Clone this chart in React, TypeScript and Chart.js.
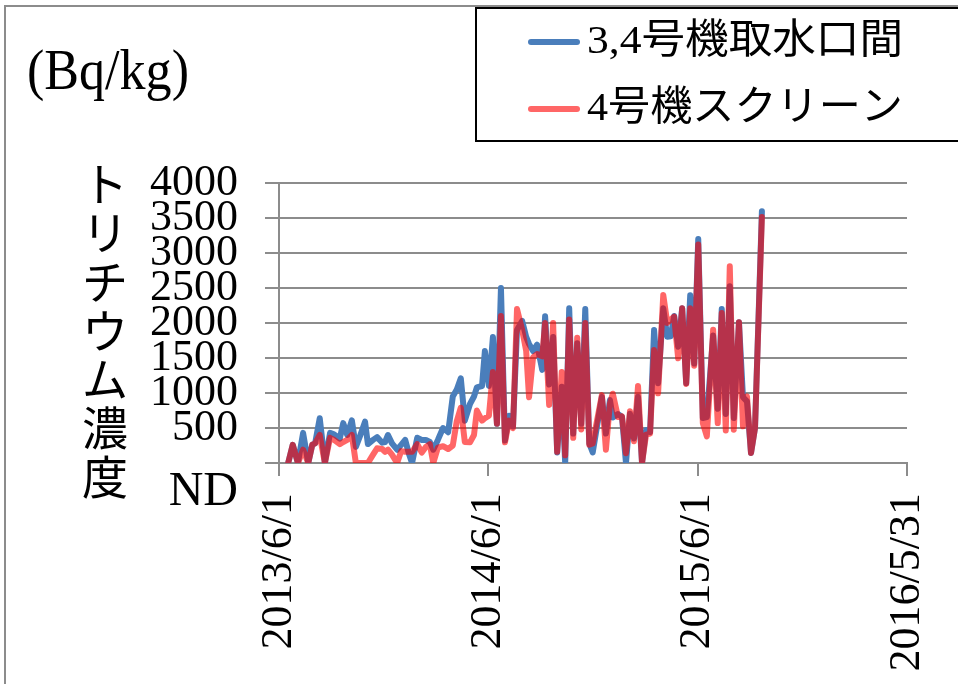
import { useEffect, useRef } from "react";
import { Chart, registerables } from "chart.js";
Chart.register(...registerables);

// Days since 2013/6/1
const days = [16,24,33,42,51,58,63,71,80,89,96,106,112,119,127,134,141,150,155,164,171,180,185,190,197,206,213,220,227,232,241,249,256,263,269,277,286,295,303,310,317,324,333,340,345,354,359,366,373,380,387,394,401,408,415,424,431,436,443,450,459,464,471,478,485,493,499,506,513,520,527,534,541,547,563,570,577,582,591,598,605,612,619,626,633,640,647,654,661,670,677,683,689,696,703,710,717,724,731,739,746,757,765,772,779,786,793,802,809,816,823,830,842];

const intakeValues = [0,260,0,430,0,260,280,640,0,430,410,350,570,400,610,230,380,590,270,330,370,290,300,400,280,190,260,330,120,0,360,330,330,300,190,330,500,440,950,1050,1210,605,843,950,1080,1100,1600,1100,1800,560,2500,320,676,524,1900,2030,1800,1700,1600,1690,1330,2095,1120,1800,150,1090,0,2210,420,1710,560,2200,280,150,945,420,900,650,700,660,0,705,350,945,0,470,440,1900,1140,2210,1805,1810,2100,1660,2210,1140,2395,1420,3200,643,655,1820,775,2200,700,2524,643,2012,940,880,143,500,3595];

const screenValues = [0,260,0,190,0,260,280,400,0,360,330,270,300,330,400,0,0,0,0,120,210,200,160,190,120,0,170,160,160,160,270,150,230,270,0,220,240,200,250,600,790,300,295,400,750,605,640,676,1300,560,2100,295,605,500,2200,1900,1600,940,1510,1557,1524,2000,830,2000,160,1300,110,2050,360,1790,480,2000,262,280,970,190,850,990,657,667,140,740,310,1100,0,405,420,1615,995,2400,2000,2050,2090,1495,2210,1130,2210,1390,3120,571,380,1905,570,2142,465,2810,476,2012,524,952,143,500,3515];

const seriesNames = ["3,4号機取水口間", "4号機スクリーン"];
const yTickValues = [0, 500, 1000, 1500, 2000, 2500, 3000, 3500, 4000];
const xTickDays = [0, 365, 730, 1095];
const xTickLabels = ["2013/6/1", "2014/6/1", "2015/6/1", "2016/5/31"];
const unitLabel = "(Bq/kg)";
const yTitle = "トリチウム濃度";
const ndLabel = "ND";

const SERIF = "'Liberation Serif', 'Noto Sans CJK JP', serif";
const CJK = "'Noto Sans CJK JP', sans-serif";
const BLUE = "#4A7EBB";
const RED = "rgba(255,0,0,0.6)";
const GRID = "#8c8c8c";

function drawFitted(ctx: CanvasRenderingContext2D, text: string, x: number, y: number, width: number, font: string, baseline: CanvasTextBaseline) {
  ctx.save();
  ctx.font = font;
  ctx.textAlign = "left";
  ctx.textBaseline = baseline;
  const w = ctx.measureText(text).width;
  ctx.translate(x, y);
  ctx.scale(width / w, 1);
  ctx.fillStyle = "#000";
  ctx.fillText(text, 0, 0);
  ctx.restore();
}

const decorPlugin = {
  id: "decor",
  beforeDraw(chart: any) {
    const ctx = chart.ctx as CanvasRenderingContext2D;
    ctx.save();
    ctx.fillStyle = "#fff";
    ctx.fillRect(0, 0, chart.width, chart.height);
    ctx.restore();
  },
  afterDraw(chart: any) {
    const ctx = chart.ctx as CanvasRenderingContext2D;
    const ys = chart.scales.y;
    ctx.save();
    ctx.strokeStyle = GRID;
    ctx.lineWidth = 2;
    ctx.strokeRect(5, 6, chart.width + 20, chart.height + 20);
    drawFitted(ctx, unitLabel, 27, 89, 162, "56px " + SERIF, "alphabetic");
    ctx.font = "46px " + CJK;
    ctx.fillStyle = "#000";
    ctx.textAlign = "center";
    ctx.textBaseline = "middle";
    Array.from(yTitle).forEach((c, i) => ctx.fillText(c, 105, 184 + i * 48.7));
    ctx.font = "48px " + SERIF;
    ctx.textAlign = "right";
    ctx.textBaseline = "alphabetic";
    ctx.fillText(ndLabel, ys.right - 41, ys.getPixelForValue(0) + 42);
    ctx.strokeStyle = "#000";
    ctx.lineWidth = 2;
    ctx.strokeRect(476, 8, 520, 133);
    const rows = [
      { y: 42, color: BLUE, text: seriesNames[0] },
      { y: 109, color: RED, text: seriesNames[1] },
    ];
    rows.forEach((r) => {
      ctx.strokeStyle = r.color;
      ctx.lineWidth = 6;
      ctx.lineCap = "round";
      ctx.beginPath();
      ctx.moveTo(531, r.y);
      ctx.lineTo(577, r.y);
      ctx.stroke();
      drawFitted(ctx, r.text, 587, r.y, 316, "41px " + SERIF, "middle");
    });
    ctx.restore();
  },
};

export default function App() {
  const ref = useRef<HTMLCanvasElement>(null);
  useEffect(() => {
    if (!ref.current) return;
    const chart = new Chart(ref.current, {
      type: "line",
      data: {
        datasets: [
          {
            label: seriesNames[0],
            data: days.map((d, i) => ({ x: d, y: intakeValues[i] })),
            borderColor: BLUE,
            borderWidth: 6,
            pointRadius: 0,
            tension: 0,
            borderJoinStyle: "round",
            borderCapStyle: "round",
            order: 2,
          },
          {
            label: seriesNames[1],
            data: days.map((d, i) => ({ x: d, y: screenValues[i] })),
            borderColor: RED,
            borderWidth: 6,
            pointRadius: 0,
            tension: 0,
            borderJoinStyle: "round",
            borderCapStyle: "round",
            order: 1,
          },
        ],
      },
      options: {
        responsive: false,
        animation: false,
        events: [],
        layout: { padding: { top: 183, right: 51, left: 0, bottom: 0 } },
        plugins: { legend: { display: false }, tooltip: { enabled: false }, title: { display: false } },
        scales: {
          x: {
            type: "linear",
            min: xTickDays[0],
            max: xTickDays[xTickDays.length - 1],
            afterBuildTicks: (s: any) => {
              s.ticks = xTickDays.map((v) => ({ value: v }));
            },
            afterFit: (s: any) => {
              s.height = 221;
              s.paddingLeft = 0;
              s.paddingRight = 0;
            },
            ticks: {
              autoSkip: false,
              minRotation: 90,
              maxRotation: 90,
              padding: 17,
              color: "#000",
              font: { family: SERIF, size: 44 },
              callback: (v: any) => {
                const i = xTickDays.indexOf(Number(v));
                return i >= 0 ? xTickLabels[i] : "";
              },
            },
            grid: { drawOnChartArea: false, drawTicks: true, tickLength: 13, color: GRID, lineWidth: 2 },
            border: { display: true, color: GRID, width: 2 },
          },
          y: {
            type: "linear",
            min: 0,
            max: 4000,
            afterBuildTicks: (s: any) => {
              s.ticks = yTickValues.map((v) => ({ value: v }));
            },
            afterFit: (s: any) => {
              s.width = 279;
              s.paddingTop = 0;
              s.paddingBottom = 0;
            },
            ticks: {
              autoSkip: false,
              padding: 27,
              color: "#000",
              font: { family: SERIF, size: 44 },
              callback: (v: any) => (Number(v) === 0 ? "" : String(v)),
            },
            grid: { drawTicks: true, tickLength: 14, color: GRID, lineWidth: 2 },
            border: { display: true, color: GRID, width: 2 },
          },
        },
      },
      plugins: [decorPlugin],
    } as any);
    return () => chart.destroy();
  }, []);
  return (
    <div style={{ position: "fixed", left: 0, top: 0, width: 958, height: 684, background: "#fff" }}>
      <canvas ref={ref} width={958} height={684} style={{ display: "block", width: 958, height: 684 }} />
    </div>
  );
}
